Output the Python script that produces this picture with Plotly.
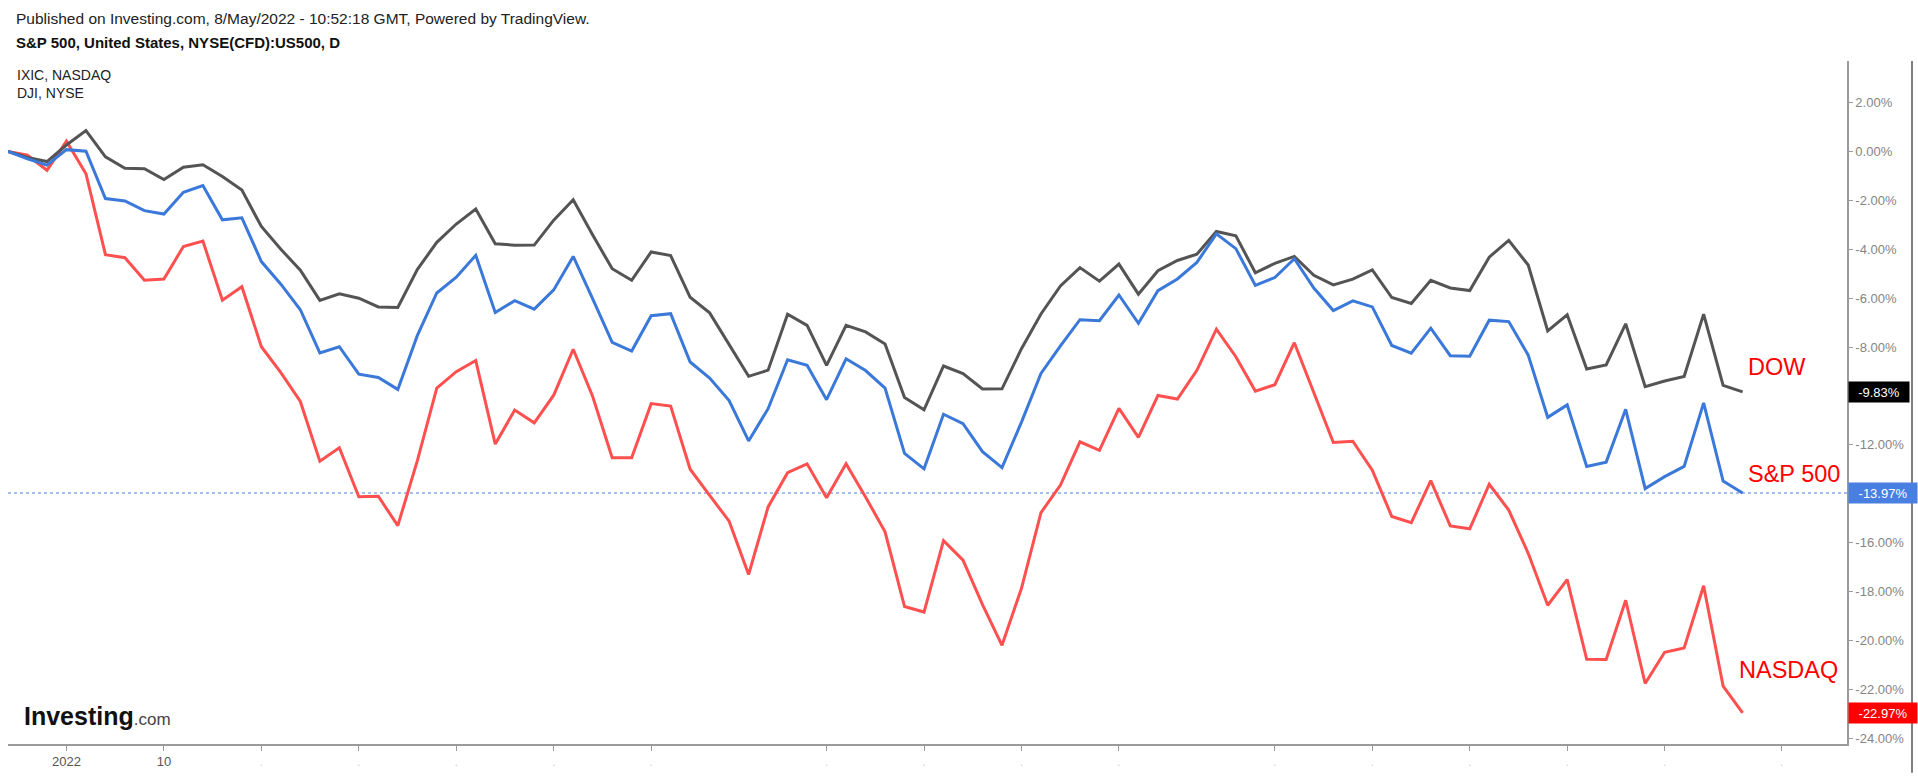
import plotly.graph_objects as go

# Trading days (Dec 29 2021 .. May 6 2022)
dates = ["2021-12-29","2021-12-30","2021-12-31",
 "2022-01-03","2022-01-04","2022-01-05","2022-01-06","2022-01-07","2022-01-10","2022-01-11","2022-01-12","2022-01-13","2022-01-14",
 "2022-01-18","2022-01-19","2022-01-20","2022-01-21","2022-01-24","2022-01-25","2022-01-26","2022-01-27","2022-01-28","2022-01-31",
 "2022-02-01","2022-02-02","2022-02-03","2022-02-04","2022-02-07","2022-02-08","2022-02-09","2022-02-10","2022-02-11","2022-02-14",
 "2022-02-15","2022-02-16","2022-02-17","2022-02-18","2022-02-22","2022-02-23","2022-02-24","2022-02-25","2022-02-28",
 "2022-03-01","2022-03-02","2022-03-03","2022-03-04","2022-03-07","2022-03-08","2022-03-09","2022-03-10","2022-03-11","2022-03-14",
 "2022-03-15","2022-03-16","2022-03-17","2022-03-18","2022-03-21","2022-03-22","2022-03-23","2022-03-24","2022-03-25","2022-03-28",
 "2022-03-29","2022-03-30","2022-03-31","2022-04-01","2022-04-04","2022-04-05","2022-04-06","2022-04-07","2022-04-08","2022-04-11",
 "2022-04-12","2022-04-13","2022-04-14","2022-04-18","2022-04-19","2022-04-20","2022-04-21","2022-04-22","2022-04-25","2022-04-26",
 "2022-04-27","2022-04-28","2022-04-29","2022-05-02","2022-05-03","2022-05-04","2022-05-05","2022-05-06"]

spx_close = [4793.06,4778.73,4766.18,
 4796.56,4793.54,4700.58,4696.05,4677.03,4670.29,4713.07,4726.35,4659.03,4662.85,
 4577.11,4532.76,4482.73,4397.94,4410.13,4356.45,4349.93,4326.51,4431.85,4515.55,
 4546.54,4589.38,4477.44,4500.53,4483.87,4521.54,4587.18,4504.08,4418.64,4401.67,
 4471.07,4475.01,4380.26,4348.87,4304.76,4225.50,4288.70,4384.65,4373.94,
 4306.26,4386.54,4363.49,4328.87,4201.09,4170.70,4277.88,4259.52,4204.31,4173.11,
 4262.45,4357.86,4411.67,4463.12,4461.18,4511.61,4456.24,4520.16,4543.06,4575.52,
 4631.60,4602.45,4530.41,4545.86,4582.64,4525.12,4481.15,4500.21,4488.28,4412.53,
 4397.45,4446.59,4392.59,4391.69,4462.21,4459.45,4393.66,4271.78,4296.12,4175.20,
 4183.96,4287.50,4131.93,4155.38,4175.48,4300.17,4146.87,4123.34]

ixic_close = [15766.22,15741.56,15644.97,
 15832.80,15622.72,15100.17,15080.86,14935.90,14942.83,15153.45,15188.39,14806.81,14893.75,
 14506.90,14340.26,14154.02,13768.92,13855.13,13539.29,13542.12,13352.78,13770.57,14239.88,
 14346.00,14417.55,13878.82,14098.01,14015.67,14194.46,14490.37,14185.64,13791.15,13790.92,
 14139.76,14124.09,13716.72,13548.07,13381.52,13037.49,13473.59,13694.62,13751.40,
 13532.46,13752.02,13537.94,13313.44,12830.96,12795.55,13255.55,13129.96,12843.81,12581.22,
 12948.62,13436.55,13614.78,13893.84,13838.46,14108.82,13922.60,14191.84,14169.30,14354.90,
 14619.64,14442.28,14220.52,14261.50,14532.55,14204.17,13888.82,13897.30,13711.00,13411.96,
 13371.57,13643.59,13351.08,13332.36,13619.66,13453.07,13174.65,12839.29,13004.85,12490.74,
 12488.93,12871.53,12334.64,12536.02,12563.76,12964.86,12317.69,12144.66]

dji_close = [36488.63,36398.08,36338.30,
 36585.06,36799.65,36407.11,36236.47,36231.66,36068.87,36252.02,36290.32,36113.62,35911.81,
 35368.47,35028.65,34715.39,34265.37,34364.50,34297.73,34168.09,34160.78,34725.47,35131.86,
 35405.24,35629.33,35111.16,35089.74,35091.13,35462.78,35768.06,35241.59,34738.06,34566.17,
 34988.84,34934.27,34312.03,34079.18,33596.61,33131.76,33223.83,34058.75,33892.60,
 33294.95,33891.35,33794.66,33614.80,32817.38,32632.64,33286.25,33174.07,32944.19,32945.24,
 33544.34,34063.10,34480.76,34754.93,34552.99,34807.46,34358.50,34707.94,34861.24,34955.89,
 35294.19,35228.81,34678.35,34818.27,34921.88,34641.18,34496.51,34583.57,34721.12,34308.08,
 34220.36,34564.59,34451.23,34411.69,34911.20,35160.79,34792.76,33811.40,34049.46,33240.18,
 33301.93,33916.39,32977.21,33061.50,33128.79,34061.06,32997.97,32899.37]

x_tick_idx = [3, 8, 13, 18, 23, 28, 33, 42, 47, 52, 57, 65, 70, 75, 80, 85, 91]
x_tick_text = ["2022", "10"]
y_ticks = [2, 0, -2, -4, -6, -8, -12, -16, -18, -20, -22, -24]

last_labels = {"DJI": "-9.83%", "SPX": "-13.97%", "IXIC": "-22.97%"}

def pct(series):
    base = series[0]
    return [(v / base - 1) * 100 for v in series]

idx = list(range(len(dates)))
spx = pct(spx_close)
ixic = pct(ixic_close)
dji = pct(dji_close)

W, H = 1918, 777
L, R, T, B = 8, 1847, 61, 748
PW, PH = R - L, B - T
YMAX, YMIN = 3.70, -24.24
XMAX = (R - L) / 19.49

def px2x(px):
    return (px - L) / PW

def px2y(py):
    return (B - py) / PH

FONT = "Arial, Liberation Sans, sans-serif"

fig = go.Figure()
fig.add_trace(go.Scatter(x=idx, y=ixic, mode="lines", name="IXIC",
                         line=dict(color="#ff5050", width=3), hoverinfo="skip"))
fig.add_trace(go.Scatter(x=idx, y=dji, mode="lines", name="DJI",
                         line=dict(color="#545454", width=3), hoverinfo="skip"))
fig.add_trace(go.Scatter(x=idx, y=spx, mode="lines", name="SPX",
                         line=dict(color="#3a78d9", width=3), hoverinfo="skip"))

# price line of main series
fig.add_shape(type="line", xref="paper", yref="y", x0=0, x1=1, y0=spx[-1], y1=spx[-1],
              line=dict(color="#4a7fe2", width=1, dash="dot"), layer="below")
# right border
fig.add_shape(type="line", xref="paper", yref="paper", x0=px2x(1912), x1=px2x(1912),
              y0=1, y1=px2y(777), line=dict(color="#555555", width=1.5))

tickvals_x = x_tick_idx
ticktext_x = [x_tick_text[i] if i < len(x_tick_text) else "<span style='color:#d0d0d0'>.</span>"
              for i in range(len(x_tick_idx))]

fig.update_layout(
    width=W, height=H,
    margin=dict(l=L, r=W - R, t=T, b=H - B),
    paper_bgcolor="white", plot_bgcolor="white",
    showlegend=False,
    font=dict(family=FONT, color="#333"),
    xaxis=dict(range=[0, XMAX], showgrid=False, zeroline=False,
               showline=True, linecolor="#9a9a9a", linewidth=1.5,
               ticks="outside", ticklen=5, tickcolor="#9a9a9a", tickwidth=1,
               tickmode="array", tickvals=tickvals_x, ticktext=ticktext_x,
               tickfont=dict(size=13, color="#555555", family=FONT),
               fixedrange=True),
    yaxis=dict(range=[YMIN, YMAX], side="right", showgrid=False, zeroline=False,
               showline=True, linecolor="#9a9a9a", linewidth=1.5,
               ticks="outside", ticklen=4, tickcolor="#9a9a9a",
               tickmode="array", tickvals=y_ticks,
               ticktext=[f"{v:.2f}%" for v in y_ticks],
               tickfont=dict(size=13, color="#858585", family=FONT),
               fixedrange=True),
)

ann = []
# header texts
ann.append(dict(text="Published on Investing.com, 8/May/2022 - 10:52:18 GMT, Powered by TradingView.",
                xref="paper", yref="paper", x=px2x(14), y=px2y(18), xanchor="left", yanchor="middle",
                showarrow=False, font=dict(size=15.5, color="#222", family=FONT)))
ann.append(dict(text="<b>S&P 500, United States, NYSE(CFD):US500, D</b>",
                xref="paper", yref="paper", x=px2x(14), y=px2y(42), xanchor="left", yanchor="middle",
                showarrow=False, font=dict(size=15, color="#111", family=FONT)))
ann.append(dict(text="IXIC, NASDAQ", xref="paper", yref="paper", x=px2x(15), y=px2y(75),
                xanchor="left", yanchor="middle", showarrow=False,
                font=dict(size=14, color="#222", family=FONT)))
ann.append(dict(text="DJI, NYSE", xref="paper", yref="paper", x=px2x(15), y=px2y(93),
                xanchor="left", yanchor="middle", showarrow=False,
                font=dict(size=14, color="#222", family=FONT)))
# series names
for txt, cx, cy in [("DOW", 1746, 369), ("S&P 500", 1746, 476), ("NASDAQ", 1737, 674)]:
    ann.append(dict(text=txt, xref="paper", yref="paper", x=px2x(cx), y=px2y(cy),
                    xanchor="left", yanchor="middle", showarrow=False,
                    font=dict(size=23.5, color="#ff0000", family=FONT)))
# last value labels
for key, val, bg, w in [("DJI", dji[-1], "#000000", 56), ("SPX", spx[-1], "#4a7fe2", 64),
                        ("IXIC", ixic[-1], "#ff0000", 64)]:
    ann.append(dict(text=last_labels[key], xref="paper", yref="y", x=px2x(1848), y=val,
                    xanchor="left", yanchor="middle", showarrow=False, bgcolor=bg,
                    width=w, height=16, align="center", borderpad=2,
                    font=dict(size=13, color="white", family=FONT)))
# logo
ann.append(dict(text="<b>Investing</b><span style='font-size:17px;color:#444'>.com</span>",
                xref="paper", yref="paper", x=px2x(22), y=px2y(720),
                xanchor="left", yanchor="middle", showarrow=False,
                font=dict(size=25, color="#111", family=FONT)))
fig.update_layout(annotations=ann)

fig.write_html("out.html", config={"displayModeBar": False},
               post_script="document.body.style.margin='0';document.body.style.padding='0';")
